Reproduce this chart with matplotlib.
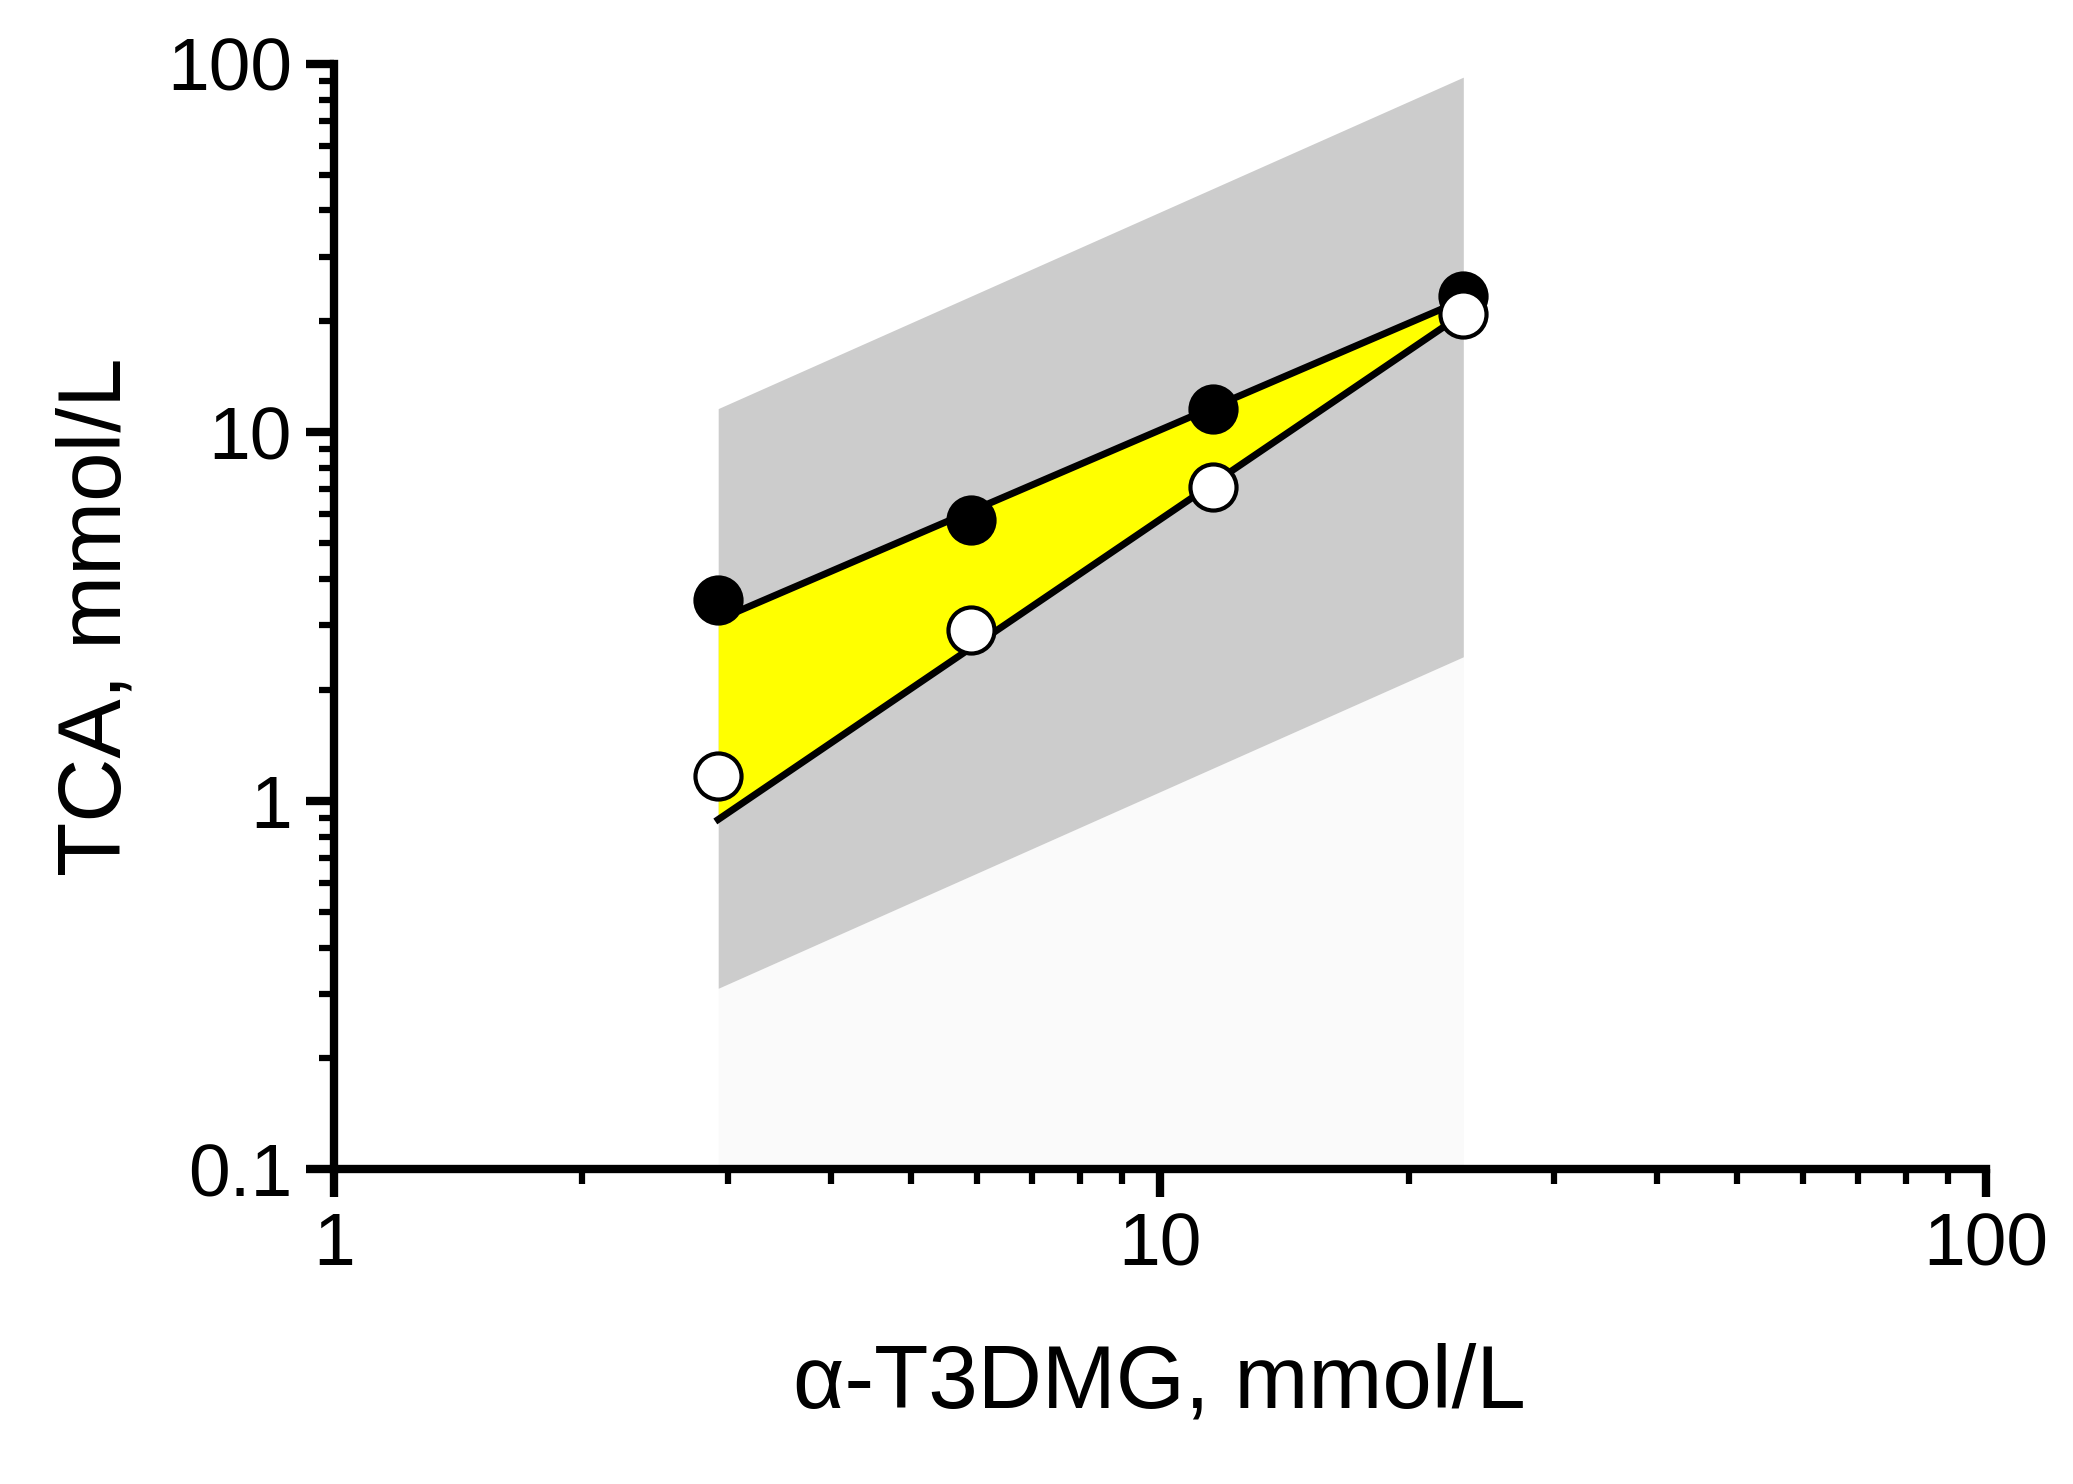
import numpy as np
import matplotlib.pyplot as plt
from matplotlib.ticker import FixedLocator, LogLocator, NullFormatter

plt.rcParams['font.family'] = ['Liberation Sans', 'DejaVu Sans']

# data
conc = [2.92, 5.9, 11.6, 23.3]
tca_black = [3.5, 5.8, 11.6, 23.5]
tca_white = [1.17, 2.9, 7.1, 21.0]
line_x = [2.92, 23.3]
line_upper = [3.1, 22.9]
line_lower = [0.89, 21.0]
band_top = [11.6, 92.0]
band_bottom = [0.31, 2.46]

fig = plt.figure(figsize=(20.73, 14.84), dpi=100)
ax = fig.add_axes([0.161, 0.212, 0.797, 0.745])
ax.set_xscale('log')
ax.set_yscale('log')
ax.set_xlim(1, 100)
ax.set_ylim(0.1, 100)

ax.fill_between(line_x, [0.1, 0.1], band_bottom, color='#fafafa', lw=0, zorder=1)
ax.fill_between(line_x, band_bottom, band_top, color='#cccccc', lw=0, zorder=1)
ax.fill_between(line_x, line_lower, line_upper, color='#ffff00', lw=0, zorder=2)
ax.plot(line_x, line_upper, color='black', lw=5, zorder=3)
ax.plot(line_x, line_lower, color='black', lw=5, zorder=3)
ax.scatter(conc, tca_black, s=1100, color='black', edgecolor='black', lw=3, zorder=4)
ax.scatter(conc, tca_white, s=1100, color='white', edgecolor='black', lw=3, zorder=5)

for s in ['top', 'right']:
    ax.spines[s].set_visible(False)
for s in ['left', 'bottom']:
    ax.spines[s].set_linewidth(6)

ax.xaxis.set_major_locator(FixedLocator([1, 10, 100]))
ax.yaxis.set_major_locator(FixedLocator([0.1, 1, 10, 100]))
ax.xaxis.set_minor_locator(LogLocator(subs=np.arange(2, 10)))
ax.yaxis.set_minor_locator(LogLocator(subs=np.arange(2, 10)))
ax.xaxis.set_minor_formatter(NullFormatter())
ax.yaxis.set_minor_formatter(NullFormatter())
ax.set_xticklabels(['1', '10', '100'])
ax.set_yticklabels(['0.1', '1', '10', '100'])
ax.tick_params(which='major', length=20, width=6, labelsize=54, pad=10)
ax.tick_params(which='minor', length=11, width=4.5)

ax.set_xlabel('α-T3DMG, mmol/L', fontsize=64, labelpad=45)
ax.set_ylabel('TCA, mmol/L', fontsize=64, labelpad=20)

fig.savefig('out.png', dpi=100)
